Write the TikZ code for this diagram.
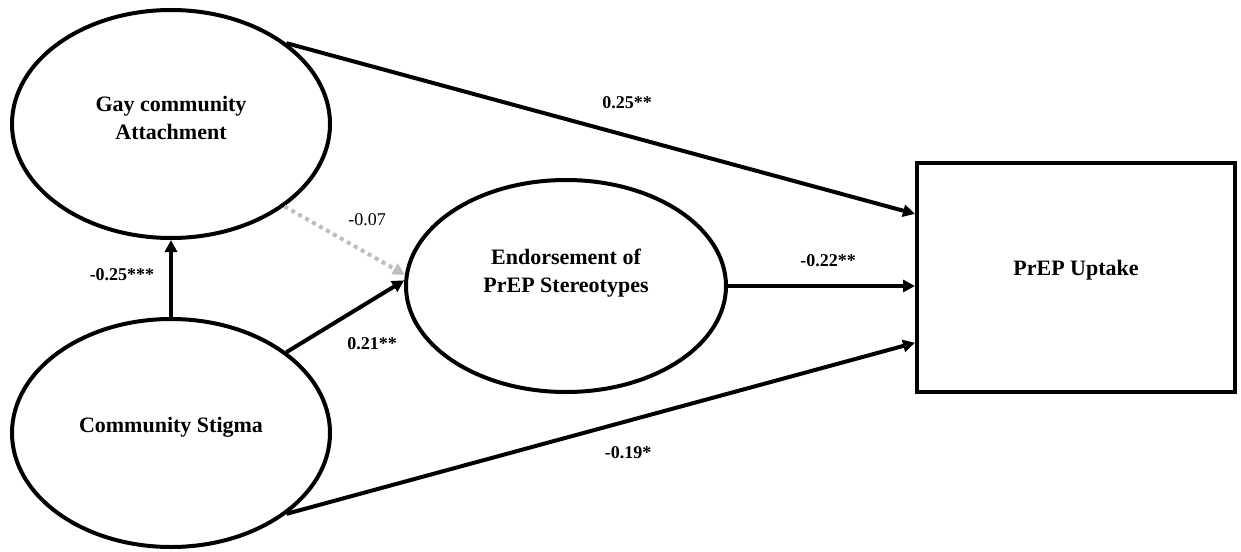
\documentclass[tikz,border=0pt]{standalone}
\usepackage{fontspec}
\setmainfont{Liberation Serif}
\usetikzlibrary{shapes.geometric,arrows.meta,calc}
\begin{document}
\begin{tikzpicture}[x=0.5pt,y=-0.5pt,
  latent/.style={ellipse,draw,line width=2pt,inner sep=0pt},
  observed/.style={rectangle,draw,line width=2pt,inner sep=0pt},
  nodetext/.style={font=\fontsize{11}{14}\selectfont\bfseries,align=center,inner sep=0pt},
  coef/.style={font=\fontsize{9}{11}\selectfont\bfseries,inner sep=0pt},
  coefns/.style={font=\fontsize{9}{11}\selectfont,inner sep=0pt},
  path/.style={line width=2pt,-{Triangle[length=6pt,width=6pt]}},
  nspath/.style={line width=2pt,draw={rgb,255:red,190;green,190;blue,190},dash pattern=on 2pt off 2pt,-{Triangle[length=6pt,width=6pt]}}
]
\useasboundingbox (0,0) rectangle (1241,551);
\node[latent,minimum width=159pt,minimum height=114pt] (gay) at (171,124) {};
\node[nodetext] (gayt) at (171,118) {Gay community\\Attachment};
\node[latent,minimum width=159pt,minimum height=114pt] (stig) at (171,433) {};
\node[nodetext] (stigt) at (171,427) {Community Stigma};
\node[latent,minimum width=160pt,minimum height=106pt] (endo) at (566,286) {};
\node[nodetext] (endot) at (566,273) {Endorsement of\\PrEP Stereotypes};
\node[observed,minimum width=159pt,minimum height=114.5pt] (up) at (1076,277.5) {};
\node[nodetext] (upt) at (1076,270) {PrEP Uptake};

\draw[path] (gay.35) -- ($(up.north west)!0.227!(up.south west)$);
\draw[path] (endo.east) -- (endo.east -| up.west);
\draw[path] (stig.-35) -- ($(up.north west)!0.78!(up.south west)$);
\draw[path] (stig.north) -- (gay.south);
\draw[path] (stig.35) -- (endo.178.6);
\draw[nspath] (gay.-36) -- (endo.176.8);

\node[coef] (c1) at (627,103) {0.25**};
\node[coef] (c2) at (828,261) {-0.22**};
\node[coef] (c3) at (628,453) {-0.19*};
\node[coefns] (c4) at (367,220) {-0.07};
\node[coef] (c5) at (122,275) {-0.25***};
\node[coef] (c6) at (372,344) {0.21**};
\end{tikzpicture}
\end{document}
